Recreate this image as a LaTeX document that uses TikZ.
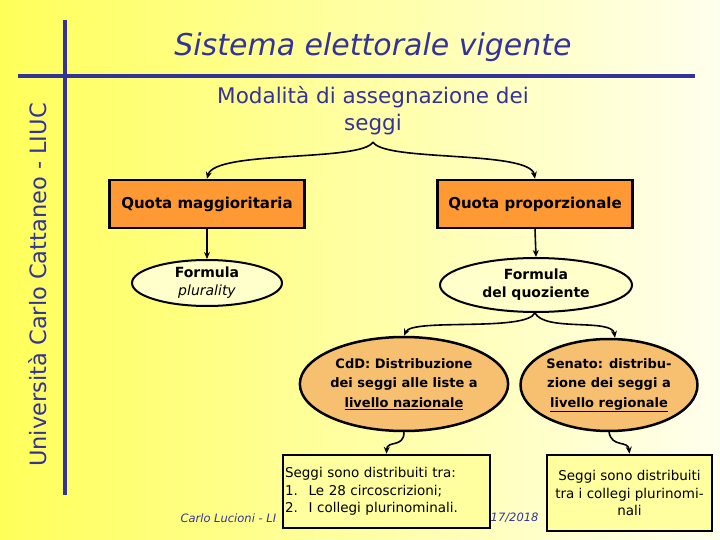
\documentclass[tikz,border=0pt]{standalone}
\usepackage{fontspec}
\setmainfont{DejaVu Sans}
\usetikzlibrary{shapes.geometric,arrows.meta}
\definecolor{navy}{RGB}{51,51,153}
\definecolor{orangebox}{RGB}{255,153,51}
\definecolor{paleyel}{RGB}{255,255,204}
\definecolor{lightorange}{RGB}{246,192,112}
\definecolor{boxyel}{RGB}{255,255,160}
\definecolor{bgleft}{RGB}{255,255,90}
\definecolor{bgright}{RGB}{255,255,238}
\begin{document}
\begin{tikzpicture}[x=1pt,y=-1pt,
  rule/.style={navy,line width=4pt},
  orbox/.style={draw=black,line width=2.5pt,fill=orangebox,minimum width=195pt,minimum height=48pt,inner sep=0pt,font=\fontsize{15}{18}\selectfont\bfseries},
  yell/.style={ellipse,draw=black,line width=2pt,fill=paleyel,inner sep=0pt,align=center,font=\fontsize{14}{18}\selectfont\bfseries},
  oell/.style={ellipse,draw=black,line width=2.5pt,fill=lightorange,inner sep=0pt,align=center,font=\fontsize{13}{19.5}\selectfont\bfseries},
  ybox/.style={draw=black,line width=2.5pt,fill=boxyel,inner sep=0pt,font=\fontsize{13.5}{17.5}\selectfont},
  conn/.style={draw=black,line width=1.6pt,-{Stealth[length=7pt,width=6pt]}}
]
\useasboundingbox (0,0) rectangle (720,540);
\shade[left color=bgleft,right color=bgright] (0,0) rectangle (720,540);
% rules
\draw[rule] (65,20) -- (65,495);
\draw[rule] (18,76) -- (695,76);
% side text
\node[rotate=90,text=navy,font=\fontsize{22.5}{26}\selectfont] (side) at (38,285) {Università Carlo Cattaneo - LIUC};
% title
\node[text=navy,font=\fontsize{30}{34}\selectfont\itshape] (title) at (373,47) {Sistema elettorale vigente};
\node[text=navy,align=center,font=\fontsize{21.5}{27}\selectfont] (mod) at (373,111) {Modalità di assegnazione dei\\seggi};
\coordinate (apex) at (373,142);
% footer (visible parts only)
\node[anchor=west,text=navy,font=\fontsize{11.5}{13}\selectfont\itshape] (foot1) at (177,518) {Carlo Lucioni - LI};
\node[anchor=east,text=navy,font=\fontsize{11.5}{13}\selectfont\itshape] (foot2) at (542,518) {17/2018};
% boxes
\node[orbox] (qm) at (207,204) {Quota maggioritaria};
\node[orbox] (qp) at (535,204) {Quota proporzionale};
\node[yell,minimum width=150pt,minimum height=46pt] (fp) at (207,283) {Formula\\\mdseries\itshape plurality};
\node[yell,minimum width=192pt,minimum height=54pt] (fq) at (536,285) {Formula\\del quoziente};
\coordinate (apex2) at (535,313);
\node[oell,minimum width=178pt,minimum height=94pt] (cdd) at (404,384) {CdD: Distribuzione\\dei seggi alle liste a\\\underline{livello nazionale}};
\node[oell,minimum width=172pt,minimum height=92pt] (sen) at (609,385) {Senato: distribu-\\zione dei seggi a\\\underline{livello regionale}};
\node[ybox,minimum width=207pt,minimum height=73pt,align=left,text width=203pt] (b1) at (386.5,491.5) {Seggi sono distribuiti tra:\\1.\hspace{0.8em}Le 28 circoscrizioni;\\2.\hspace{0.8em}I collegi plurinominali.};
\node[ybox,minimum width=165pt,minimum height=76pt,align=center] (b2) at (629.5,493) {Seggi sono distribuiti\\tra i collegi plurinomi-\\nali};
% connectors
\draw[conn] (apex) .. controls (362,162) and (215,150) .. (qm.north);
\draw[conn] (apex) .. controls (384,162) and (530,150) .. (qp.north);
\draw[conn] (qm.south) -- (fp.north);
\draw[conn] (qp.south) -- (fq.north);
\draw[conn] (apex2) .. controls (525,332) and (412,318) .. (cdd.north);
\draw[conn] (apex2) .. controls (545,332) and (612,318) .. ([xshift=6pt]sen.north);
\draw[conn] (cdd.south) .. controls (404,448) and (387,440) .. (b1.north);
\draw[conn] (sen.south) .. controls (612,448) and (628,440) .. (b2.north);
\end{tikzpicture}
\end{document}
